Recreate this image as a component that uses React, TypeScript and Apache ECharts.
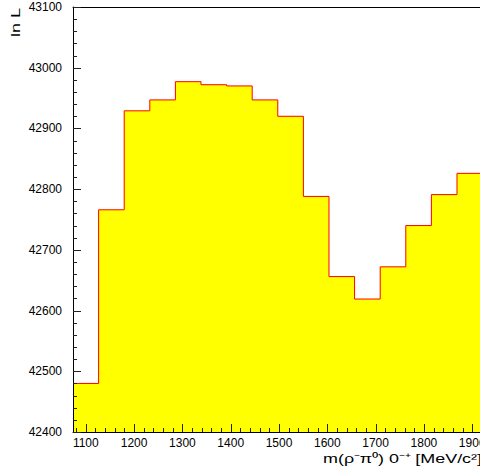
import React, { useEffect, useRef } from "react";
import * as echarts from "echarts";

// Histogram bin edges (MeV/c^2) and log-likelihood values per bin
const binEdges = [
  1073.5, 1126.5, 1179.5, 1232.5, 1285.5, 1338.5, 1391.5, 1444.5, 1497.5,
  1550.5, 1603.5, 1656.5, 1709.5, 1762.5, 1815.5, 1868.5, 1921.5,
];
const binValues = [
  42480, 42766, 42929, 42947, 42977, 42972, 42970, 42947, 42920, 42788,
  42656, 42619, 42672, 42740, 42791, 42826,
];
const xMajorTicks = [1100, 1200, 1300, 1400, 1500, 1600, 1700, 1800, 1900];
const xMin = 1073.5;
const xMax = 2000;
const yMin = 42400;
const yMax = 43100;
const yTitle = "ln L";
const xTitle = "m(ρ⁻π⁰) 0⁻⁺ [MeV/c²]";

const FONT = "'Liberation Sans', Arial, sans-serif";
const TICK = "#222222";

export default function App() {
  const ref = useRef<HTMLDivElement>(null);
  useEffect(() => {
    if (!ref.current) return;
    const chart = echarts.init(ref.current, undefined, { renderer: "svg" });

    // tick positions (major = 1, minor = 0)
    const xTicks: [number, number][] = [];
    for (let v = 1080; v < xMax; v += 20) xTicks.push([v, v % 100 === 0 ? 1 : 0]);
    const yTicks: [number, number][] = [];
    for (let v = yMin; v <= yMax; v += 20) yTicks.push([v, v % 100 === 0 ? 1 : 0]);

    const data: [number, number][] = binValues.map((v, i) => [binEdges[i], v]);
    data.push([binEdges[binEdges.length - 1], binValues[binValues.length - 1]]);

    chart.setOption({
      animation: false,
      backgroundColor: "#ffffff",
      grid: {
        left: 73,
        top: 7,
        width: (xMax - xMin) * 0.483,
        bottom: 38,
        show: false,
      },
      xAxis: [
        {
          type: "value",
          min: xMin,
          max: xMax,
          z: 5,
          axisLine: { show: true, onZero: false, lineStyle: { color: "#000", width: 1 } },
          axisTick: { show: false },
          axisLabel: {
            customValues: xMajorTicks,
            margin: 5,
            color: "#000",
            fontSize: 12,
            fontFamily: FONT,
            formatter: (v: number) => String(v),
          },
          splitLine: { show: false },
        },
        {
          type: "value",
          min: xMin,
          max: xMax,
          position: "top",
          z: 5,
          axisLine: { show: true, onZero: false, lineStyle: { color: "#000", width: 1 } },
          axisTick: { show: false },
          axisLabel: { show: false },
          splitLine: { show: false },
        },
      ],
      yAxis: {
        type: "value",
        min: yMin,
        max: yMax,
        interval: 100,
        z: 5,
        axisLine: { show: true, onZero: false, lineStyle: { color: "#000", width: 1 } },
        axisTick: { show: false },
        minorTick: { show: false },
        axisLabel: {
          margin: 11,
          color: "#000",
          fontSize: 12,
          fontFamily: FONT,
          formatter: (v: number) => String(v),
        },
        splitLine: { show: false },
      },
      graphic: [
        {
          type: "text",
          x: 16,
          y: 8,
          rotation: Math.PI / 2,
          scaleX: 1.5,
          style: {
            text: yTitle,
            fill: "#000",
            font: `12px ${FONT}`,
            textAlign: "right",
            textVerticalAlign: "middle",
          },
        },
        {
          type: "text",
          x: 323,
          y: 458,
          scaleX: 1.38,
          style: {
            text: xTitle,
            fill: "#000",
            font: `13px ${FONT}`,
            textAlign: "left",
            textVerticalAlign: "middle",
          },
        },
      ],
      series: [
        {
          type: "line",
          xAxisIndex: 0,
          step: "end",
          symbol: "none",
          data,
          lineStyle: { color: "#ff0000", width: 1 },
          areaStyle: { color: "#ffff00", opacity: 1, origin: "start" },
          z: 2,
        },
        {
          type: "custom",
          xAxisIndex: 0,
          clip: false,
          z: 6,
          silent: true,
          encode: { x: 0 },
          data: xTicks,
          renderItem: (params: any, api: any) => {
            const p = api.coord([api.value(0), yMin]);
            const len = api.value(1) ? 8 : 4;
            const x = Math.round(p[0]) + 0.5;
            const y = Math.round(p[1]);
            return {
              type: "line",
              shape: { x1: x, y1: y, x2: x, y2: y - len },
              style: { stroke: TICK, lineWidth: 1 },
            };
          },
        },
        {
          type: "custom",
          xAxisIndex: 0,
          clip: false,
          z: 6,
          silent: true,
          encode: { y: 0 },
          data: yTicks,
          renderItem: (params: any, api: any) => {
            const p = api.coord([xMin, api.value(0)]);
            const len = api.value(1) ? 8 : 4;
            const x = Math.round(p[0]);
            const y = Math.round(p[1]) + 0.5;
            return {
              type: "line",
              shape: { x1: x, y1: y, x2: x + len, y2: y },
              style: { stroke: TICK, lineWidth: 1 },
            };
          },
        },
      ],
    });
    return () => chart.dispose();
  }, []);

  return (
    <div
      style={{
        position: "fixed",
        left: 0,
        top: 0,
        width: 480,
        height: 470,
        overflow: "hidden",
        background: "#fff",
      }}
    >
      <div ref={ref} style={{ width: 560, height: 470 }} />
    </div>
  );
}
